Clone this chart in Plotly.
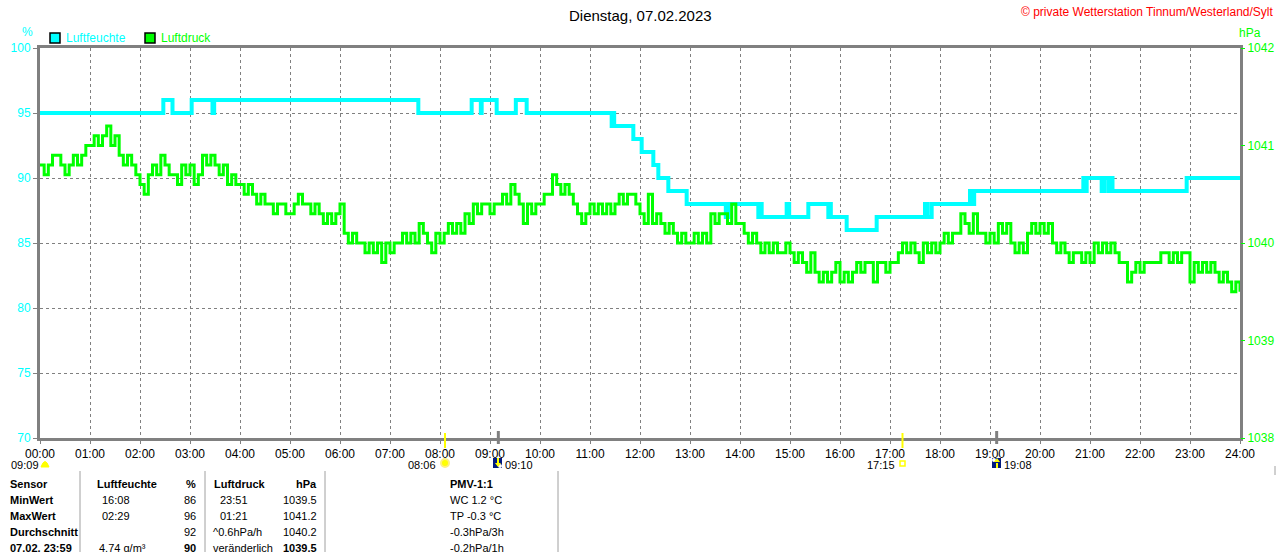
import plotly.graph_objects as go


def hm(s):
    h, m = s.split(":")
    return int(h) + int(m) / 60


# Luftfeuchte (%) - change points, drawn as steps
hum_times = ["00:00", "02:28", "02:39", "03:02", "03:27", "03:29", "07:34", "08:38",
             "08:49", "08:50", "09:08", "09:31", "09:44", "11:26", "11:28", "11:29",
             "11:52", "12:02", "12:16", "12:22", "12:34", "12:56", "13:43", "13:46",
             "14:22", "14:24", "14:26", "14:56", "14:59", "15:22", "15:46", "15:47",
             "15:49", "16:08", "16:44", "17:42", "17:45", "17:50", "18:36", "18:38",
             "18:41", "20:52", "20:53", "20:56", "21:14", "21:17", "21:22", "21:24",
             "21:27", "22:56", "24:00"]
hum_values = [95, 96, 95, 96, 95, 96, 95, 96,
              95, 96, 95, 96, 95, 94, 95, 94,
              93, 92, 91, 90, 89, 88, 87, 88,
              87, 88, 87, 88, 87, 88, 87, 88,
              87, 86, 87, 88, 87, 88, 89, 88,
              89, 90, 89, 90, 89, 90, 89, 90,
              89, 90, 90]

# Luftdruck (hPa) - one row per hour, 5 minute samples
pressure = [
    1040.8, 1040.7, 1040.8, 1040.9, 1040.9, 1040.8, 1040.7, 1040.8, 1040.9, 1040.8, 1040.9, 1041.0,
    1041.0, 1041.1, 1041.0, 1041.1, 1041.2, 1041.0, 1041.1, 1040.9, 1040.8, 1040.9, 1040.8, 1040.7,
    1040.6, 1040.5, 1040.7, 1040.8, 1040.7, 1040.9, 1040.8, 1040.7, 1040.7, 1040.6, 1040.8, 1040.7,
    1040.8, 1040.6, 1040.7, 1040.9, 1040.8, 1040.9, 1040.8, 1040.7, 1040.8, 1040.6, 1040.7, 1040.6,
    1040.6, 1040.5, 1040.6, 1040.5, 1040.4, 1040.5, 1040.4, 1040.4, 1040.3, 1040.4, 1040.4, 1040.3,
    1040.3, 1040.4, 1040.5, 1040.4, 1040.4, 1040.3, 1040.4, 1040.3, 1040.2, 1040.3, 1040.2, 1040.3,
    1040.4, 1040.1, 1040.0, 1040.1, 1040.0, 1040.0, 1039.9, 1040.0, 1039.9, 1040.0, 1039.8, 1040.0,
    1039.9, 1040.0, 1040.0, 1040.1, 1040.0, 1040.1, 1040.0, 1040.2, 1040.1, 1040.0, 1039.9, 1040.1,
    1040.0, 1040.1, 1040.2, 1040.1, 1040.2, 1040.1, 1040.3, 1040.2, 1040.4, 1040.3, 1040.4, 1040.4,
    1040.3, 1040.4, 1040.4, 1040.5, 1040.4, 1040.6, 1040.5, 1040.4, 1040.2, 1040.4, 1040.3, 1040.4,
    1040.4, 1040.5, 1040.5, 1040.7, 1040.6, 1040.5, 1040.6, 1040.5, 1040.4, 1040.3, 1040.2, 1040.3,
    1040.4, 1040.3, 1040.4, 1040.3, 1040.4, 1040.3, 1040.4, 1040.5, 1040.4, 1040.5, 1040.5, 1040.4,
    1040.3, 1040.2, 1040.5, 1040.2, 1040.3, 1040.2, 1040.1, 1040.2, 1040.1, 1040.0, 1040.1, 1040.0,
    1040.0, 1040.1, 1040.0, 1040.1, 1040.0, 1040.3, 1040.2, 1040.3, 1040.3, 1040.2, 1040.4, 1040.2,
    1040.2, 1040.1, 1040.0, 1040.1, 1040.0, 1039.9, 1040.0, 1039.9, 1040.0, 1039.9, 1039.9, 1040.0,
    1039.9, 1039.8, 1039.9, 1039.8, 1039.7, 1039.9, 1039.7, 1039.6, 1039.7, 1039.6, 1039.7, 1039.8,
    1039.6, 1039.7, 1039.6, 1039.7, 1039.8, 1039.7, 1039.8, 1039.8, 1039.6, 1039.8, 1039.8, 1039.7,
    1039.8, 1039.8, 1039.9, 1040.0, 1039.9, 1040.0, 1039.9, 1039.8, 1040.0, 1039.9, 1040.0, 1039.9,
    1040.0, 1040.1, 1040.0, 1040.1, 1040.1, 1040.3, 1040.2, 1040.1, 1040.3, 1040.1, 1040.1, 1040.0,
    1040.1, 1040.0, 1040.2, 1040.1, 1040.2, 1040.0, 1039.9, 1040.0, 1039.9, 1040.1, 1040.2, 1040.1,
    1040.2, 1040.1, 1040.2, 1040.0, 1039.9, 1040.0, 1039.9, 1039.8, 1039.9, 1039.9, 1039.8, 1039.9,
    1039.8, 1040.0, 1039.9, 1040.0, 1039.9, 1040.0, 1039.9, 1039.8, 1039.8, 1039.6, 1039.7, 1039.8,
    1039.7, 1039.8, 1039.8, 1039.8, 1039.8, 1039.9, 1039.9, 1039.8, 1039.9, 1039.8, 1039.9, 1039.9,
    1039.6, 1039.8, 1039.7, 1039.8, 1039.7, 1039.8, 1039.7, 1039.6, 1039.7, 1039.6, 1039.5, 1039.6,
    1039.5,
]
pressure_times = [i * 5 / 60 for i in range(len(pressure))]

hour_ticks = list(range(25))
hour_labels = ["%02d:00" % h for h in hour_ticks]

# sun / moon events below the axis
sunrise, sunset = "08:06", "17:15"
moonrise, moonset = "19:08", "09:10"
sun_prev = "09:09"

# summary table
table_labels = ["Sensor", "MinWert", "MaxWert", "Durchschnitt", "07.02. 23:59"]
hum_col_times = ["", "16:08", "02:29", "", "4.74 g/m³"]
hum_col_vals = ["%", "86", "96", "92", "90"]
pres_col_times = ["", "23:51", "01:21", "^0.6hPa/h", "veränderlich"]
pres_col_vals = ["hPa", "1039.5", "1041.2", "1040.2", "1039.5"]
pmv_col = ["PMV-1:1", "WC 1.2 °C", "TP -0.3 °C", "-0.3hPa/3h", "-0.2hPa/1h"]

CYAN = "#00FFFF"
GREEN = "#00FF00"
GREY = "#808080"
FONT = "Liberation Sans, Arial, sans-serif"


# page pixel -> paper coords (plot area spans x 40..1240, y 48..438 on the page)
def px(x):
    return (x - 40) / 1200


def py(y):
    return (438 - y) / 390


fig = go.Figure()
fig.add_trace(go.Scatter(
    x=pressure_times, y=pressure, mode="lines", line=dict(color=GREEN, width=3, shape="hv"),
    yaxis="y2", name="Luftdruck"))
fig.add_trace(go.Scatter(
    x=[hm(t) for t in hum_times], y=hum_values, mode="lines",
    line=dict(color=CYAN, width=4, shape="hv"), name="Luftfeuchte"))

ann = []
shapes = []


def text(x, y, s, color="black", size=12, anchor="left"):
    ann.append(dict(x=px(x), y=py(y), xref="paper", yref="paper", text=s, showarrow=False,
                    xanchor=anchor, yanchor="middle", font=dict(color=color, size=size, family=FONT)))


text(640, 15, "Dienstag, 07.02.2023", size=15, anchor="center")
text(1276, 12, "© private Wetterstation Tinnum/Westerland/Sylt", color="red", anchor="right")
text(27, 32, "%", color=CYAN, anchor="center")
text(1250, 33, "hPa", color=GREEN, anchor="center")

# legend
for x0, col, label in [(50, CYAN, "Luftfeuchte"), (145, GREEN, "Luftdruck")]:
    shapes.append(dict(type="rect", xref="paper", yref="paper", x0=px(x0), x1=px(x0 + 10),
                       y0=py(43), y1=py(33), fillcolor=col, line=dict(color="black", width=1.5)))
    text(x0 + 14, 38, label, color=col)


# sun and moon markers
def vtick(t, color, y0, y1, w):
    shapes.append(dict(type="line", xref="x", yref="paper", x0=hm(t), x1=hm(t),
                       y0=py(y0), y1=py(y1), line=dict(color=color, width=w)))


vtick(sunrise, "#FFFF00", 433, 448, 2)
vtick(sunset, "#FFFF00", 433, 448, 2)
vtick(moonset, GREY, 431, 444, 3)
vtick(moonrise, GREY, 431, 444, 3)

EV = 11
EY = 465
text(9, EY, sun_prev, size=EV)
shapes.append(dict(type="path", xref="paper", yref="paper",
                   path="M %f %f Q %f %f %f %f Z" % (px(41), py(467), px(45), py(456), px(49), py(467)),
                   fillcolor="#FFFF00", line=dict(color="#FFFF00", width=1)))

text(438, EY, sunrise, size=EV, anchor="right")
shapes.append(dict(type="circle", xref="paper", yref="paper", x0=px(441), x1=px(449),
                   y0=py(467), y1=py(459), fillcolor="#FFFF00", line=dict(color="#FFF080", width=2)))

text(897, EY, sunset, size=EV, anchor="right")
shapes.append(dict(type="rect", xref="paper", yref="paper", x0=px(900), x1=px(905),
                   y0=py(466), y1=py(461), line=dict(color="#FFFF00", width=1.5)))

for t, x0, up in [(moonset, 493, False), (moonrise, 992, True)]:
    shapes.append(dict(type="rect", xref="paper", yref="paper", x0=px(x0), x1=px(x0 + 9),
                       y0=py(468), y1=py(458), fillcolor="#001A80", line=dict(width=0)))
    cx = x0 + 5
    if up:
        arrow = "M %f %f L %f %f L %f %f Z" % (px(cx - 3), py(462), px(cx + 3), py(462), px(cx), py(458))
        stem = (463, 468)
        shapes.append(dict(type="circle", xref="paper", yref="paper", x0=px(x0), x1=px(x0 + 4),
                           y0=py(462), y1=py(458), fillcolor="white", line=dict(width=0)))
    else:
        arrow = "M %f %f L %f %f L %f %f Z" % (px(cx - 3), py(463), px(cx + 3), py(463), px(cx), py(467))
        stem = (458, 463)
        shapes.append(dict(type="circle", xref="paper", yref="paper", x0=px(x0 + 5), x1=px(x0 + 9),
                           y0=py(468), y1=py(464), fillcolor="white", line=dict(width=0)))
    shapes.append(dict(type="line", xref="paper", yref="paper", x0=px(cx), x1=px(cx),
                       y0=py(stem[0]), y1=py(stem[1]), line=dict(color="#FFFF00", width=2)))
    shapes.append(dict(type="path", xref="paper", yref="paper", path=arrow,
                       fillcolor="#FFFF00", line=dict(width=0)))
    text(x0 + 10, EY, t, size=EV)

# table
TS = 11
row_y = [484, 500, 516, 532, 548]
for i, y in enumerate(row_y):
    text(8, y, "<b>%s</b>" % table_labels[i], size=TS)
    if i == 0:
        text(95, y, "<b>Luftfeuchte</b>", size=TS)
        text(212, y, "<b>Luftdruck</b>", size=TS)
    else:
        text(100 if i < 4 else 97, y, hum_col_times[i], size=TS)
        text(218 if i < 3 else 211, y, pres_col_times[i], size=TS)
    bold = i == 0 or i == 4
    text(198, y, "<b>%s</b>" % hum_col_vals[i] if bold else hum_col_vals[i], size=TS, anchor="right")
    text(319, y, "<b>%s</b>" % pres_col_vals[i] if bold else pres_col_vals[i], size=TS, anchor="right")
    text(448, y, "<b>%s</b>" % pmv_col[i] if i == 0 else pmv_col[i], size=TS)

for x in [80, 205, 325, 558]:
    shapes.append(dict(type="line", xref="paper", yref="paper", x0=px(x), x1=px(x),
                       y0=py(471), y1=py(556), line=dict(color="#A0A0A0", width=1)))
shapes.append(dict(type="line", xref="paper", yref="paper", x0=px(1275), x1=px(1275),
                   y0=py(466), y1=py(475), line=dict(color="#A0A0A0", width=1)))

fig.update_layout(
    width=1280, height=552,
    margin=dict(l=40, r=40, t=48, b=114, autoexpand=False),
    paper_bgcolor="white", plot_bgcolor="white",
    showlegend=False,
    font=dict(family=FONT, size=12, color="black"),
    annotations=ann, shapes=shapes,
    xaxis=dict(range=[0, 24], tickvals=hour_ticks, ticktext=hour_labels,
               showgrid=True, gridcolor=GREY, griddash="3px,3px", gridwidth=1,
               showline=True, mirror=True, linecolor=GREY, linewidth=3,
               ticks="outside", ticklen=3, tickcolor=GREY, tickfont=dict(color="black", size=12),
               zeroline=False, automargin=False),
    yaxis=dict(range=[70, 100], dtick=5, showgrid=True, gridcolor=GREY, griddash="3px,3px",
               showline=True, mirror=True, linecolor=GREY, linewidth=3,
               ticks="outside", ticklen=4, tickcolor=GREY, tickfont=dict(color=CYAN, size=12),
               zeroline=False, automargin=False),
    yaxis2=dict(range=[1038, 1042], dtick=1, overlaying="y", side="right", showgrid=False,
                ticks="outside", ticklen=4, tickcolor=GREEN, tickfont=dict(color=GREEN, size=12),
                showline=False, zeroline=False, automargin=False),
)

# drop the page's default body margin so the figure sits at the top-left corner
fig.write_html("out.html", config={"responsive": False, "displayModeBar": False},
               post_script="document.body.style.margin='0';document.body.style.overflow='hidden';")
